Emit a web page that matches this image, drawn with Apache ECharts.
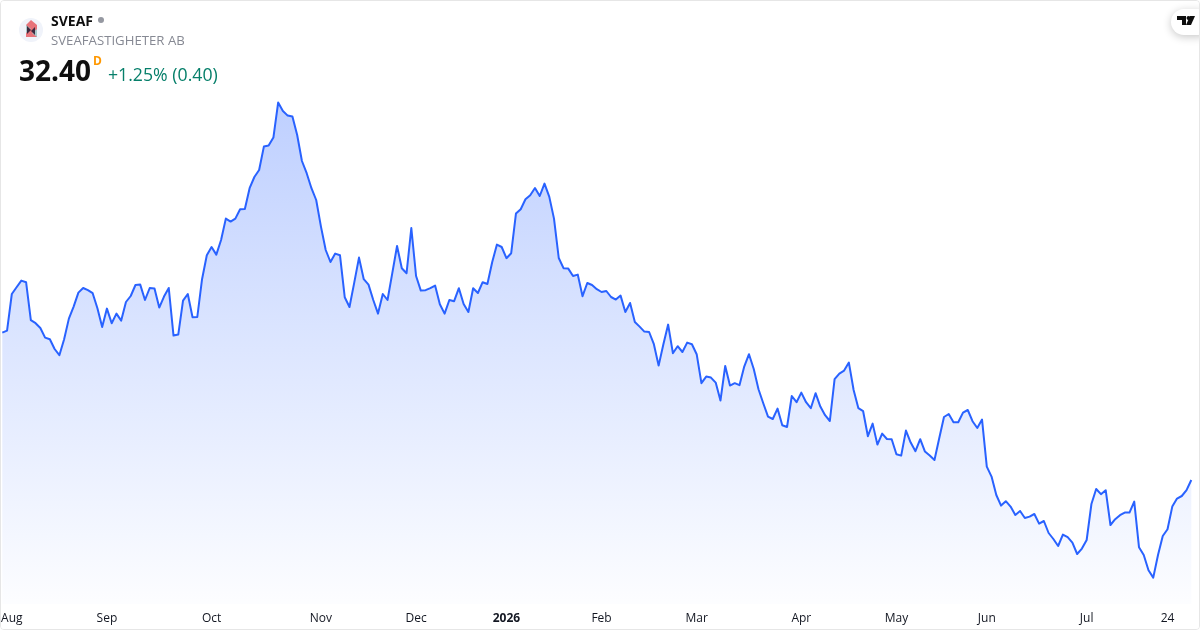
<!DOCTYPE html>
<html><head><meta charset="utf-8">
<style>
html,body{margin:0;padding:0;background:#fff;}
#card{position:absolute;left:0;top:0;width:1198px;height:628px;border:1px solid #e6e6e6;border-radius:4px;overflow:hidden;}
#chart{position:absolute;left:-1px;top:-1px;width:1200px;height:630px;}
</style>
<script src="https://cdn.jsdelivr.net/npm/echarts@6/dist/echarts.min.js"></script>
</head><body>
<div id="card"><div id="chart"></div></div>
<script>
const prices = [
39.77,39.87,41.70,42.04,42.37,42.29,40.39,40.24,40.00,39.52,39.44,38.95,38.64,39.44,40.47,41.07,41.77,42.00,41.89,41.74,
40.99,40.05,40.97,40.24,40.72,40.37,41.30,41.60,42.15,42.17,41.40,42.00,41.97,41.02,41.57,42.00,39.62,39.67,41.37,41.70,
40.54,40.55,42.44,43.64,44.05,43.67,44.40,45.47,45.32,45.47,45.94,45.95,46.99,47.55,47.90,49.07,49.12,49.52,51.27,50.85,
50.62,50.57,49.65,48.35,47.74,46.99,46.40,45.07,43.90,43.30,43.72,43.64,41.54,41.05,42.27,43.52,42.44,42.17,41.40,40.72,
41.70,41.40,42.74,44.10,42.99,42.74,45.00,42.60,41.87,41.89,41.99,42.12,41.19,40.72,41.40,41.34,41.99,41.20,40.80,41.99,
41.75,42.29,42.20,43.29,44.17,44.05,43.49,43.74,45.72,45.94,46.44,46.64,47.00,46.60,47.22,46.57,45.47,43.50,42.99,42.97,
42.60,42.67,41.59,42.25,42.15,41.94,41.80,41.85,41.55,41.42,41.62,40.80,41.25,40.30,40.07,39.82,39.80,39.19,38.12,39.19,
40.17,38.74,39.09,38.80,39.27,39.19,38.69,37.24,37.57,37.52,37.27,36.37,38.10,37.12,37.24,37.14,38.07,38.69,37.95,36.94,
36.24,35.57,35.45,35.97,35.14,35.05,36.60,36.29,36.77,36.29,35.99,36.74,36.07,35.64,35.35,37.44,37.72,37.87,38.27,36.90,
35.99,35.84,34.59,35.22,34.17,34.72,34.45,34.44,33.69,33.62,34.87,34.27,33.84,34.44,33.82,33.62,33.40,34.49,35.55,35.70,
35.29,35.29,35.77,35.90,35.34,35.00,35.42,33.07,32.57,31.65,31.12,31.34,31.07,30.65,30.85,30.50,30.57,30.70,30.22,30.35,
29.75,29.45,29.10,29.67,29.54,29.27,28.70,28.97,29.40,31.20,31.95,31.69,31.89,30.15,30.44,30.64,30.77,30.77,31.32,29.04,
28.65,27.89,27.52,28.65,29.60,29.94,31.07,31.47,31.60,31.89,32.40];
const tickLabels = ['Aug','Sep','Oct','Nov','Dec','2026','Feb','Mar','Apr','May','Jun','Jul','24'];
const tickBars = [2,22,44,67,87,106,126,146,168,188,207,228,245];
const boldTicks = ['2026'];
const symbol = 'SVEAF';
const company = 'SVEAFASTIGHETER AB';
const lastPrice = '32.40';
const intervalTag = 'D';
const changeText = '+1.25% (0.40)';

const categories = prices.map((_, i) => {
  const t = tickBars.indexOf(i);
  return t >= 0 ? tickLabels[t] : 'bar' + i;
});
const FONT = '"Open Sans","Noto Sans",sans-serif';

const chart = echarts.init(document.getElementById('chart'), null, {renderer:'canvas'});
chart.setOption({
  animation:false,
  backgroundColor:'#fff',
  grid:{left:2.3,right:8.7,top:0,bottom:26,outerBoundsMode:'none'},
  xAxis:{
    type:'category',data:categories,boundaryGap:false,
    axisLine:{show:false},axisTick:{show:false},splitLine:{show:false},
    axisLabel:{
      interval:(i)=>tickBars.includes(i),
      hideOverlap:false,
      color:'#131722',fontSize:12,fontFamily:FONT,margin:9,
      formatter:(v)=>boldTicks.includes(v)?'{b|'+v+'}':v,
      rich:{b:{fontWeight:'bold',fontSize:12,color:'#131722',fontFamily:FONT}}
    }
  },
  yAxis:{type:'value',min:26.2,max:56.4,show:false,splitLine:{show:false}},
  series:[{
    type:'line',data:prices,symbol:'none',smooth:false,
    lineStyle:{color:'#2962ff',width:2,join:'round'},
    itemStyle:{color:'#2962ff'},
    areaStyle:{opacity:1,color:new echarts.graphic.LinearGradient(0,0,0,1,[
      {offset:0,color:'rgba(41,98,255,0.30)'},
      {offset:1,color:'rgba(41,98,255,0.01)'}
    ])}
  }],
  graphic:[
    {type:'circle',shape:{cx:31,cy:30,r:12},style:{fill:'#f0f3fa'},z:10},
    {type:'polygon',shape:{points:[[31,20],[37,25],[37,37],[26,37],[26,25]]},style:{fill:'#e8737a'},z:11},
    {type:'polygon',shape:{points:[[26,25],[31,29],[26,33]]},style:{fill:'#a9c9cc'},z:12},
    {type:'polygon',shape:{points:[[37,29],[32,33],[37,37]]},style:{fill:'#a9c9cc'},z:12},
    {type:'polygon',shape:{points:[[27,26],[31,30],[27,34]]},style:{fill:'#3d2a3f'},z:12},
    {type:'polygon',shape:{points:[[35,27],[31,31],[35,35]]},style:{fill:'#3d2a3f'},z:12},
    {type:'text',left:51,top:15,style:{text:symbol,font:'bold 14px '+FONT,fill:'#0f0f0f'},z:10},
    {type:'circle',shape:{cx:101,cy:20,r:3},style:{fill:'#9598a1'},z:10},
    {type:'text',left:51,top:35,style:{text:company,font:'13.2px '+FONT,fill:'#868993'},z:10},
    {type:'text',left:19,top:59,style:{text:lastPrice,font:'bold 28px '+FONT,fill:'#0f0f0f'},z:10},
    {type:'text',left:93,top:56,style:{text:intervalTag,font:'bold 12px '+FONT,fill:'#ff9800'},z:10},
    {type:'text',left:108,top:67,style:{text:changeText,font:'17.7px '+FONT,fill:'#067f6a'},z:10},
    {type:'rect',shape:{x:1171,y:9,width:40,height:26,r:13},style:{fill:'#fff',shadowBlur:8,shadowColor:'rgba(0,0,0,0.22)',shadowOffsetY:2},z:10},
    {type:'polygon',shape:{points:[[1177,16],[1186,16],[1186,25],[1182,25],[1182,20],[1177,20]]},style:{fill:'#0f0f0f'},z:11},
    {type:'circle',shape:{cx:1188.5,cy:18,r:2},style:{fill:'#0f0f0f'},z:11},
    {type:'polygon',shape:{points:[[1190,16],[1195,16],[1191,25],[1186,25]]},style:{fill:'#0f0f0f'},z:11}
  ]
});
</script>
</body></html>
